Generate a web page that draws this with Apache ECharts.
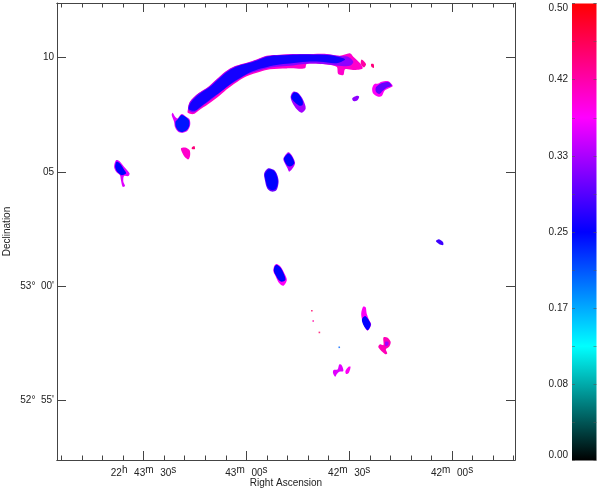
<!DOCTYPE html>
<html><head><meta charset="utf-8">
<style>html,body{margin:0;padding:0;background:#fff}#c{width:600px;height:492px}</style>
<script src="https://cdn.jsdelivr.net/npm/echarts@6/dist/echarts.min.js"></script>
</head><body><div id="c"></div>
<script>
// RA in seconds after 22h 42m 00s; Dec in arcmin after 53 deg 00'
const raMajorTicks = [90, 60, 30, 0];
const raMinorTicks = [114,108,102,96,84,78,72,66,54,48,42,36,24,18,12,6,-6,-12,-18];
const raTickLabels = ['22h 43m 30s', '43m 00s', '42m 30s', '42m 00s'];
const decTicks = [-5, 0, 5, 10];
const decTickLabels = ["52°  55'", "53°  00'", '05', '10'];
const colorbarTickLabels = ['0.00','0.08','0.17','0.25','0.33','0.42','0.50'];
const colorStops = ['#000000','#00ffff','#0000ff','#ff00ff','#ff0000'];

const arcEdge = [[77.1,7.71],[76.5,8.07],[74.0,8.44],[71.1,8.73],[68.7,9.05],[66.2,9.38],[63.3,9.63],[59.9,9.78],[57.0,9.92],[54.1,10.08],[50.2,10.13],[45.3,10.16],[40.5,10.16],[36.6,10.16],[32.7,10.08],[29.8,10.19],[28.8,10.04],[26.8,9.75],[26.1,9.53],[28.8,9.46],[31.2,9.49],[31.7,9.24],[33.2,9.28],[33.7,9.60],[38.5,9.72],[42.4,9.72],[42.9,9.54],[48.2,9.53],[53.1,9.49],[56.0,9.38],[59.9,9.19],[61.9,9.02],[65.3,8.66],[67.7,8.36],[71.1,7.97],[74.0,7.68],[75.5,7.53],[77.1,7.59]];
const arcMiddle = [[77.0,7.72],[76.4,8.07],[73.9,8.44],[71.0,8.72],[68.6,9.04],[66.1,9.37],[63.2,9.62],[59.8,9.77],[56.9,9.91],[54.0,10.07],[50.2,10.12],[45.3,10.15],[40.5,10.15],[36.6,10.15],[32.7,10.07],[30.3,10.04],[28.8,9.82],[29.8,9.64],[32.2,9.63],[36.6,9.71],[41.4,9.74],[46.3,9.66],[50.2,9.61],[53.6,9.55],[57.0,9.40],[59.9,9.25],[62.8,8.99],[65.6,8.73],[68.2,8.41],[71.1,8.07],[73.5,7.80],[75.5,7.60]];
const arcCore = [[76.8,7.74],[76.2,8.04],[73.7,8.41],[70.8,8.70],[68.4,9.02],[65.9,9.35],[63.0,9.60],[59.6,9.75],[56.7,9.89],[53.8,10.05],[50.0,10.10],[45.3,10.13],[40.5,10.13],[36.4,10.11],[32.7,10.02],[31.2,9.92],[33.7,9.76],[38.5,9.82],[42.4,9.82],[47.3,9.74],[51.2,9.68],[55.1,9.55],[58.0,9.42],[60.9,9.20],[63.8,8.93],[66.7,8.60],[69.6,8.28],[72.6,7.94],[75.0,7.68]];
const arcSpeckA = [[26.4,9.92],[25.1,9.72],[25.7,9.57],[26.6,9.72]];
const arcSpeckB = [[23.6,9.72],[22.9,9.72],[22.8,9.55],[23.5,9.6]];
const headEdge = [[81.5,7.59],[80.8,7.41],[80.1,7.34],[78.9,7.53],[77.6,7.41],[76.6,7.30],[76.4,7.05],[77.2,6.80],[78.6,6.71],[79.9,6.76],[80.8,6.95],[81.1,7.20],[81.8,7.49]];
const headCore = [[78.9,7.49],[77.6,7.39],[76.7,7.24],[76.7,7.01],[77.4,6.83],[78.7,6.74],[79.8,6.80],[80.6,6.98],[80.7,7.20],[80.0,7.31]];
const pinkPatch = [[79.1,6.03],[77.9,6.07],[76.6,5.96],[76.4,5.74],[76.9,5.55],[77.9,5.64],[78.6,5.81]];
const pinkSpeck = [[75.9,6.07],[75.2,6.13],[75.0,6.0],[75.9,6.0]];
const westEdge = [[98.0,5.52],[97.1,5.48],[95.7,5.23],[94.1,4.94],[94.4,4.82],[95.7,4.82],[95.9,4.57],[95.4,4.38],[96.1,4.35],[96.6,4.64],[96.9,4.86],[98.0,5.01],[98.6,5.23]];
const westCore = [[97.9,5.45],[96.9,5.37],[95.7,5.11],[95.1,4.94],[96.4,4.86],[97.7,5.01],[98.3,5.23]];
const fEdge = [[46.3,8.51],[44.8,8.44],[43.4,8.14],[42.7,7.78],[43.9,7.59],[45.3,7.74],[46.5,8.0],[47.1,8.29]];
const fCore = [[46.1,8.48],[44.8,8.41],[43.6,8.12],[43.6,7.93],[44.5,7.90],[45.8,8.04],[46.9,8.26]];
const gEdge = [[47.8,5.86],[46.8,5.74],[45.8,5.40],[46.3,5.20],[47.5,5.01],[48.0,5.16],[49.0,5.45],[49.2,5.59]];
const gCore = [[47.8,5.81],[46.9,5.71],[46.0,5.40],[46.8,5.26],[47.9,5.26],[48.9,5.49],[49.0,5.61]];
const hEdge = [[53.6,5.16],[51.9,5.08],[51.0,4.87],[50.6,4.57],[51.2,4.21],[52.6,4.14],[53.9,4.28],[54.6,4.65],[54.8,4.94]];
const hCore = [[53.5,5.11],[52.0,5.05],[51.2,4.85],[50.8,4.57],[51.4,4.27],[52.6,4.21],[53.7,4.32],[54.4,4.65],[54.6,4.91]];
const iEdge = [[51.2,0.97],[50.0,0.85],[48.9,0.56],[48.2,0.27],[49.2,0.02],[50.4,0.13],[51.4,0.42],[52.1,0.64],[51.9,0.88]];
const iCore = [[51.2,0.94],[50.1,0.83],[49.0,0.53],[48.6,0.27],[49.7,0.20],[50.7,0.30],[51.5,0.49],[52.0,0.68],[51.8,0.85]];
const jEdge = [[23.3,8.65],[22.7,8.84],[21.5,8.87],[20.5,8.95],[18.6,8.97],[17.3,8.76],[18.6,8.65],[19.7,8.55],[20.5,8.32],[21.5,8.29],[23.0,8.43]];
const jCore = [[22.2,8.70],[20.8,8.87],[18.6,8.93],[17.6,8.77],[19.1,8.68],[20.2,8.55],[21.2,8.41],[22.2,8.51]];
const kPatch = [[29.1,8.22],[27.8,8.33],[27.1,8.29],[27.6,8.14],[28.8,8.10]];
const lPatch = [[4.7,1.98],[3.8,2.06],[2.6,1.93],[2.6,1.80],[3.8,1.85]];
const mEdge = [[25.9,-0.89],[25.2,-0.92],[24.9,-1.19],[24.2,-1.48],[23.6,-1.67],[24.6,-1.94],[25.4,-1.80],[26.2,-1.48],[26.5,-1.19]];
const mCore = [[25.4,-1.30],[24.6,-1.41],[23.7,-1.67],[24.6,-1.92],[25.7,-1.74],[26.3,-1.45]];
const nEdge = [[20.0,-2.24],[18.9,-2.24],[17.9,-2.43],[18.3,-2.64],[19.3,-2.76],[18.9,-2.94],[19.5,-2.97],[21.5,-2.67],[21.0,-2.54],[20.0,-2.57]];
const nCore = [[19.5,-2.43],[18.6,-2.43],[18.6,-2.57],[19.4,-2.62]];
const oPatchA = [[34.6,-3.67],[33.4,-3.64],[32.9,-3.42],[32.2,-3.45],[31.7,-3.71],[32.9,-3.74],[33.6,-3.84],[34.1,-3.96],[34.7,-3.81]];
const oPatchB = [[30.2,-3.52],[29.6,-3.52],[30.1,-3.78],[30.9,-3.84],[31.1,-3.71]];
const specks = [[40.9,-1.07,0.45],[40.5,-1.52,0.42],[38.7,-2.02,0.45],[32.9,-2.67,0.2]];

// outline + surface brightness, painted bottom layer first
const layers = [
 [arcEdge,0.40],[arcMiddle,0.32],[arcCore,0.26],[arcSpeckA,0.42],[arcSpeckB,0.44],
 [headEdge,0.36],[headCore,0.24],[pinkPatch,0.40],[pinkSpeck,0.44],
 [westEdge,0.36],[westCore,0.25],[fEdge,0.33],[fCore,0.25],[gEdge,0.34],[gCore,0.25],
 [hEdge,0.30],[hCore,0.25],[iEdge,0.38],[iCore,0.25],[jEdge,0.38],[jCore,0.30],
 [kPatch,0.32],[lPatch,0.28],[mEdge,0.38],[mCore,0.25],[nEdge,0.41],[nCore,0.33],
 [oPatchA,0.36],[oPatchB,0.38]
];

const FONT = 'Liberation Sans', INK = '#222222', LINE = '#444444';
const RA_MIN = -18.38, RA_MAX = 115.26, DEC_MIN = -7.60, DEC_MAX = 12.39;
const frame = {left:57, top:3, width:458, height:457, outerBoundsMode:'none'};
const barRect = {left:572, top:3.5, width:24.5, height:457, outerBoundsMode:'none'};
const raRich = {
  n:{fontFamily:FONT,fontSize:10,color:INK},
  s:{fontFamily:FONT,fontSize:10,color:INK,padding:[0,0,6,0]}
};
function raLabel(v){
  const i = raMajorTicks.indexOf(v);
  return raTickLabels[i].replace(/(\d+)([hms])/g,'{n|$1}{s|$2}').replace(/ /g,'  ');
}
function decLabel(v){ return decTickLabels[decTicks.indexOf(v)]; }

function raAxis(gridIndex, position, ticks, length, labels){
  return {type:'value',gridIndex,position,inverse:true,min:RA_MIN,max:RA_MAX,splitLine:{show:false},
    axisLine:{show:true,onZero:false,lineStyle:{color:LINE,width:1}},
    axisTick:{show:true,inside:true,length,customValues:ticks,lineStyle:{color:LINE,width:1}},
    axisLabel:labels?{show:true,customValues:raMajorTicks,margin:5,formatter:raLabel,rich:raRich,hideOverlap:false}:{show:false}};
}
function decAxis(position, labels){
  return {type:'value',gridIndex:0,position,min:DEC_MIN,max:DEC_MAX,splitLine:{show:false},
    axisLine:{show:true,onZero:false,lineStyle:{color:LINE,width:1}},
    axisTick:{show:true,inside:true,length:9,customValues:decTicks,lineStyle:{color:LINE,width:1}},
    axisLabel:labels?{show:true,customValues:decTicks,margin:3,formatter:decLabel,fontFamily:FONT,fontSize:10,color:INK}:{show:false},
    ...(labels?{name:'Declination',nameLocation:'middle',nameGap:45,nameRotate:90,nameMoveOverlap:false,nameTextStyle:{fontFamily:FONT,fontSize:10,color:INK}}:{})};
}
function barAxis(position, labels){
  return {type:'value',gridIndex:2,position,min:0,max:0.5,interval:0.5/6,z:20,splitLine:{show:false},
    axisLine:{show:false},
    axisTick:{show:true,inside:true,length:3,lineStyle:{color:'#555555',width:1,opacity:0.6}},
    minorTick:{show:true,splitNumber:2,length:3,lineStyle:{color:'#555555',width:1,opacity:0.5}},
    axisLabel:labels?{show:true,margin:4,fontFamily:FONT,fontSize:10,color:INK,showMinLabel:true,showMaxLabel:true,
      verticalAlignMinLabel:'bottom',verticalAlignMaxLabel:'top',
      formatter:(v)=>colorbarTickLabels[Math.round(v*12)]}:{show:false}};
}

const chart = echarts.init(document.getElementById('c'),null,{renderer:'canvas'});
chart.setOption({
  animation:false,
  backgroundColor:'#ffffff',
  tooltip:{show:false},
  grid:[{...frame},{...frame},{...barRect}],
  xAxis:[
    {...raAxis(0,'bottom',raMajorTicks,9,true),name:'Right Ascension',nameLocation:'middle',nameGap:18,nameMoveOverlap:false,nameTextStyle:{fontFamily:FONT,fontSize:10,color:INK}},
    raAxis(0,'top',raMajorTicks,9,false),
    raAxis(1,'bottom',raMinorTicks,4.5,false),
    raAxis(1,'top',raMinorTicks,4.5,false),
    {type:'category',gridIndex:2,data:['bar'],show:false}
  ],
  yAxis:[
    decAxis('left',true),
    decAxis('right',false),
    {type:'value',gridIndex:1,min:DEC_MIN,max:DEC_MAX,show:false},
    barAxis('left',true),
    barAxis('right',false)
  ],
  visualMap:[{
    type:'continuous',show:false,min:0,max:0.5,seriesIndex:[0,1],dimension:2,
    inRange:{color:colorStops}
  }],
  series:[
    {type:'custom',coordinateSystem:'cartesian2d',xAxisIndex:0,yAxisIndex:0,
     encode:{x:0,y:1},silent:true,clip:true,
     data:layers.map(l=>[l[0][0][0],l[0][0][1],l[1]]),
     renderItem:(params,api)=>({
       type:'polygon',
       shape:{points:layers[params.dataIndex][0].map(p=>api.coord(p)),smooth:0.3},
       style:{fill:api.visual('color')}
     })},
    {type:'scatter',xAxisIndex:0,yAxisIndex:0,symbol:'rect',symbolSize:1.6,silent:true,data:specks},
    {type:'bar',xAxisIndex:4,yAxisIndex:3,barWidth:'100%',silent:true,data:[0.5],
     itemStyle:{color:new echarts.graphic.LinearGradient(0,1,0,0,
       colorStops.map((color,i)=>({offset:i/(colorStops.length-1),color})))}}
  ]
});
</script></body></html>
